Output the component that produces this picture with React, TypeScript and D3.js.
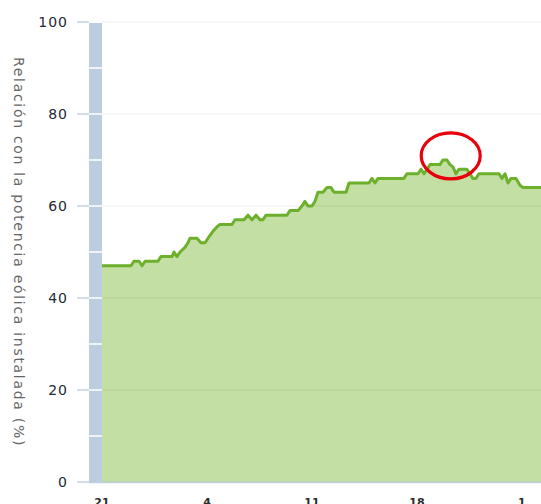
import React from "react"
import * as d3 from "d3"

// breakpoints of the series, x in days after the first tick
const days = [
  0, 1.93, 2.13, 2.47, 2.67, 2.87, 3.73, 3.93, 4.67, 4.8, 5.0, 5.2, 5.53, 5.73, 5.87,
  6.33, 6.6, 6.87, 7.07, 7.4, 7.67, 7.87, 8.67, 8.87, 9.47, 9.73, 10.0, 10.27, 10.53,
  10.73, 10.93, 12.33, 12.53, 13.07, 13.33, 13.53, 13.73, 14.0, 14.2, 14.4, 14.73, 15.0,
  15.27, 15.47, 16.27, 16.47, 17.8, 18.0, 18.2, 18.4, 20.13, 20.33, 21.07, 21.27, 21.47,
  21.67, 21.87, 22.53, 22.73, 23.0, 23.2, 23.4, 23.6, 23.8, 24.33, 24.53, 24.73, 24.93,
  25.13, 26.47, 26.67, 26.87, 27.07, 27.27, 27.6, 27.87, 28.07, 29.27,
]
const values = [
  47, 47, 48, 48, 47, 48, 48, 49, 49, 50, 49, 50, 51, 52, 53,
  53, 52, 52, 53, 54.5, 55.5, 56, 56, 57, 57, 58, 57, 58, 57,
  57, 58, 58, 59, 59, 60, 61, 60, 60, 61, 63, 63, 64,
  64, 63, 63, 65, 65, 66, 65, 66, 66, 67, 67, 68, 67,
  68, 69, 69, 70, 70, 69, 68.5, 67, 68, 68, 67, 66, 66,
  67, 67, 66, 67, 65, 66, 66, 64.5, 64, 64,
]

const xTickDays = [0, 7, 14, 21, 28]
const xTickLabels = ["21", "4", "11", "18", "1"]
const yTicks = [0, 20, 40, 60, 80, 100]
const barSteps = [10, 20, 30, 40, 50, 60, 70, 80, 90]

// highlighted spot (day, value)
const highlight = { day: 23.25, value: 70.9 }

const yTitle = "Relación con la potencia eólica instalada (%)"

const W = 541
const H = 504
const plotLeft = 102
const barLeft = 89

export default function App() {
  const x = d3.scaleLinear().domain([0, 29.27]).range([plotLeft, W])
  const y = d3.scaleLinear().domain([0, 100]).range([482, 22])

  const pts = days.map((d, i) => [d, values[i]] as [number, number])

  const line = d3.line<[number, number]>()
    .x(d => x(d[0]))
    .y(d => y(d[1]))

  const area = d3.area<[number, number]>()
    .x(d => x(d[0]))
    .y0(y(0))
    .y1(d => y(d[1]))

  const font = "'DejaVu Sans', Verdana, sans-serif"

  return (
    <div>
      <style>{`body{margin:0}`}</style>
      <svg width={W} height={H} style={{ display: "block" }}>
        <rect width={W} height={H} fill="#fff" />

        {/* left column */}
        <rect x={barLeft} y={y(100) + 1} width={plotLeft - barLeft} height={y(0) - y(100) - 1} fill="#bccde0" />
        {barSteps.map(v => (
          <line key={v} x1={barLeft} x2={plotLeft} y1={y(v)} y2={y(v)} stroke="#fff" strokeWidth={1.5} />
        ))}

        <path d={area(pts) || ""} fill="#c4dfa4" />

        {/* grid */}
        {yTicks.map(v => (
          <g key={v}>
            <line x1={plotLeft} x2={W} y1={y(v)} y2={y(v)} stroke="#000" strokeOpacity={0.075} strokeWidth={1} />
            <line x1={77} x2={barLeft} y1={y(v)} y2={y(v)} stroke="#c0d0e0" strokeWidth={1.5} />
            <text x={68} y={y(v) + 5} textAnchor="end" fontFamily={font} fontSize={14}
              letterSpacing={1} fill="#1f2a36">{v}</text>
          </g>
        ))}

        <path d={line(pts) || ""} fill="none" stroke="#6cb02c" strokeWidth={3} strokeLinejoin="round" />

        <line x1={barLeft} x2={W} y1={y(0) + 0.5} y2={y(0) + 0.5} stroke="#c0d0e0" strokeWidth={1.5} />

        {xTickDays.map((d, i) => (
          <text key={d} x={x(d)} y={506} textAnchor="middle" fontFamily={font} fontSize={11}
            fontWeight="bold" fill="#2a2a2a">{xTickLabels[i]}</text>
        ))}

        <text transform={`translate(13.5, ${(y(0) + y(100)) / 2}) rotate(90)`} textAnchor="middle"
          fontFamily={font} fontSize={14} letterSpacing={1.7} fill="#666">{yTitle}</text>

        <ellipse cx={x(highlight.day)} cy={y(highlight.value)} rx={29.5} ry={23}
          fill="none" stroke="#e8000b" strokeWidth={3.2} />
      </svg>
    </div>
  )
}
